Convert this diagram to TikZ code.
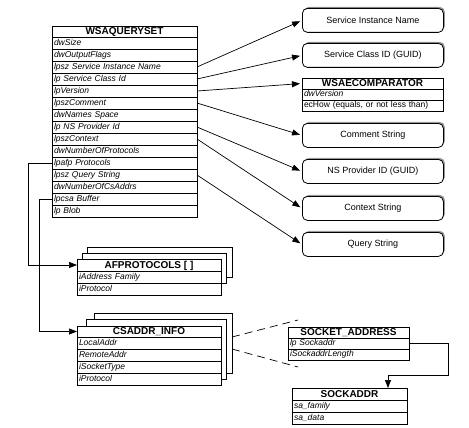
\documentclass[tikz,border=0pt]{standalone}
\usepackage{fontspec}
\setmainfont{Liberation Sans}
\usetikzlibrary{arrows.meta,positioning,shadows}

\tikzset{
  hdr/.style={draw, fill=white, line width=0.8pt, outer sep=0pt, inner sep=0pt,
    minimum width=#1, minimum height=11pt, text height=7.5pt, text depth=1pt,
    font=\fontsize{10}{12}\selectfont\bfseries},
  fld/.style={draw, fill=white, line width=0.8pt, outer sep=0pt, inner xsep=2pt, inner ysep=0pt,
    text width=#1, minimum height=12pt, text height=6.5pt, text depth=2pt, align=left,
    font=\fontsize{8.5}{10}\selectfont\itshape},
  sbox/.style={draw, fill=white, line width=0.8pt, rounded corners=5pt, minimum width=141pt,
    minimum height=24pt, font=\fontsize{9}{11}\selectfont,
    drop shadow={shadow xshift=1.5pt, shadow yshift=1.5pt, fill=black!40, opacity=1}},
  stack/.style={draw, fill=white, line width=0.8pt},
  arr/.style={line width=0.7pt, -{Triangle[length=8pt,width=6pt]}, shorten >=2pt},
  zoomline/.style={line width=0.7pt, dash pattern=on 8pt off 5pt},
}

\begin{document}
\begin{tikzpicture}[x=1pt, y=-1pt]
  \useasboundingbox (0,0) rectangle (469,428);

  %query set
  \node[hdr=145pt, anchor=north west] (q0) at (52,26) {WSAQUERYSET};
  \node[fld=141pt, below=0pt of q0] (q1) {dwSize};
  \node[fld=141pt, below=0pt of q1] (q2) {dwOutputFlags};
  \node[fld=141pt, below=0pt of q2] (q3) {lpsz Service Instance Name};
  \node[fld=141pt, below=0pt of q3] (q4) {lp Service Class Id};
  \node[fld=141pt, below=0pt of q4] (q5) {lpVersion};
  \node[fld=141pt, below=0pt of q5] (q6) {lpszComment};
  \node[fld=141pt, below=0pt of q6] (q7) {dwNames Space};
  \node[fld=141pt, below=0pt of q7] (q8) {lp NS Provider Id};
  \node[fld=141pt, below=0pt of q8] (q9) {lpszContext};
  \node[fld=141pt, below=0pt of q9] (q10) {dwNumberOfProtocols};
  \node[fld=141pt, below=0pt of q10] (q11) {lpafp Protocols};
  \node[fld=141pt, below=0pt of q11] (q12) {lpsz Query String};
  \node[fld=141pt, below=0pt of q12] (q13) {dwNumberOfCsAddrs};
  \node[fld=141pt, below=0pt of q13] (q14) {lpcsa Buffer};
  \node[fld=141pt, below=0pt of q14] (q15) {lp Blob};

  %right column
  \node[sbox, anchor=north west] (sin) at (302,8) {Service Instance Name};
  \node[sbox, anchor=north west] (sci) at (302,43) {Service Class ID (GUID)};
  \node[hdr=141pt, anchor=north west] (cmp0) at (302,78) {WSAECOMPARATOR};
  \node[fld=137pt, minimum height=11pt, below=0pt of cmp0] (cmp1) {dwVersion};
  \node[fld=137pt, minimum height=11pt, below=0pt of cmp1] (cmp2) {\upshape ecHow (equals, or not less than)};
  \node[sbox, anchor=north west] (com) at (302,123) {Comment String};
  \node[sbox, anchor=north west] (nsp) at (302,159) {NS Provider ID (GUID)};
  \node[sbox, anchor=north west] (ctx) at (302,196) {Context String};
  \node[sbox, anchor=north west] (qry) at (302,232) {Query String};

  \draw[arr] (q3.east) -- (sin.west);
  \draw[arr] (q4.east) -- (sci.west);
  \draw[arr] (q5.east) -- (cmp0.west);
  \draw[arr] (q6.east) -- (com.west);
  \draw[arr] (q8.east) -- (nsp.west);
  \draw[arr] (q9.east) -- (ctx.west);
  \draw[arr] (q12.east) -- (qry.west);

  %protocols array
  \draw[stack] (87,247) rectangle (232,277);
  \draw[stack] (82,253) rectangle (226,283);
  \node[hdr=144pt, minimum height=12pt, anchor=north west] (af0) at (77,259) {AFPROTOCOLS [ ]};
  \node[fld=140pt, below=0pt of af0] (af1) {iAddress Family};
  \node[fld=140pt, below=0pt of af1] (af2) {iProtocol};

  %csaddr array
  \draw[stack] (94,313) rectangle (232,373);
  \draw[stack] (86,319) rectangle (226,379);
  \node[hdr=144pt, anchor=north west] (cs0) at (77,326) {CSADDR\_INFO};
  \node[fld=140pt, below=0pt of cs0] (cs1) {LocalAddr};
  \node[fld=140pt, below=0pt of cs1] (cs2) {RemoteAddr};
  \node[fld=140pt, below=0pt of cs2] (cs3) {iSocketType};
  \node[fld=140pt, below=0pt of cs3] (cs4) {iProtocol};

  \draw[arr, shorten >=0pt] (q11.west) -- ++(-24,0) |- (af0.west);
  \draw[arr, shorten >=0pt] (q14.west) -- ++(-13,0) |- (cs0.west);

  %socket address
  \node[hdr=121pt, anchor=north west] (sa0) at (288,327) {SOCKET\_ADDRESS};
  \node[fld=117pt, minimum height=11pt, below=0pt of sa0] (sa1) {lp Sockaddr};
  \node[fld=117pt, minimum height=11pt, below=0pt of sa1] (sa2) {iSockaddrLength};

  \coordinate (zt) at (298,320);
  \coordinate (zb) at (298,367);
  \draw[zoomline] ([xshift=11pt]cs1.north east) -- (zt);
  \draw[zoomline] ([xshift=11pt]cs1.south east) -- (zb);

  \node[hdr=115pt, minimum height=12pt, anchor=north west] (sk0) at (292,388) {SOCKADDR};
  \node[fld=111pt, below=0pt of sk0] (sk1) {sa\_family};
  \node[fld=111pt, below=0pt of sk1] (sk2) {sa\_data};

  \draw[arr, shorten >=0pt] (sa1.east) -| (448,375) -| ([xshift=38.5pt]sk0.north);
\end{tikzpicture}
\end{document}
